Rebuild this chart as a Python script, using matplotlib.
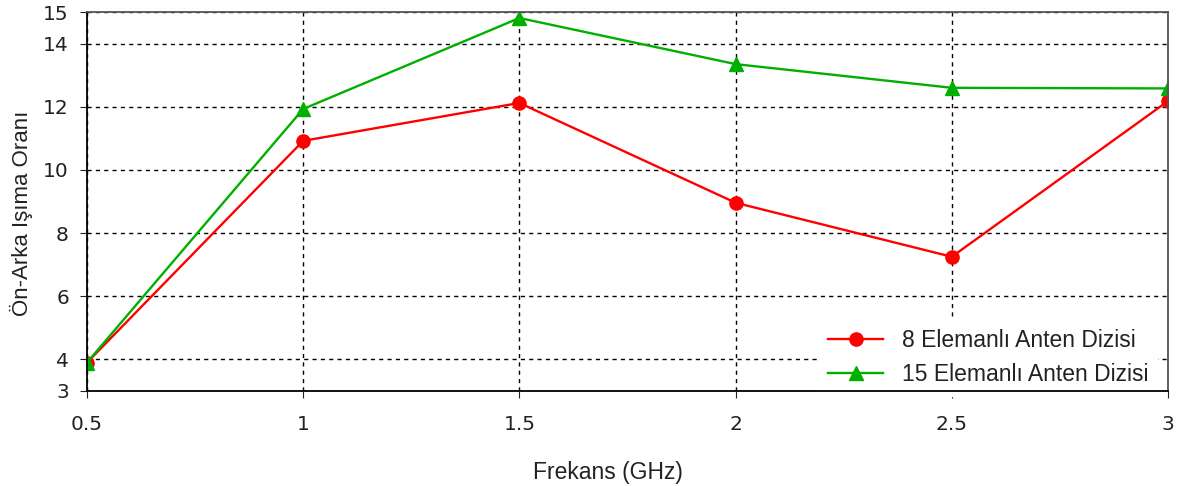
import matplotlib.pyplot as plt

# veri
frekans = [0.5, 1, 1.5, 2, 2.5, 3]
eleman8 = [3.9, 10.92, 12.12, 8.96, 7.25, 12.18]
eleman15 = [3.9, 11.93, 14.81, 13.35, 12.6, 12.58]
yticks = [3, 4, 6, 8, 10, 12, 14, 15]
xticks = [0.5, 1, 1.5, 2, 2.5, 3]

fig = plt.figure(figsize=(11.9, 4.86), dpi=100)
ax = fig.add_axes([0.0731, 0.1955, 0.9084, 0.7798])

ax.plot(frekans, eleman8, color='#ff0000', lw=1.7, marker='o', markersize=9.5,
        label='8 Elemanlı Anten Dizisi', zorder=3)
ax.plot(frekans, eleman15, color='#00b000', lw=1.7, marker='^', markersize=10,
        label='15 Elemanlı Anten Dizisi', zorder=3)

ax.set_xlim(0.5, 3)
ax.set_ylim(3, 15)
ax.set_xticks(xticks)
ax.set_xticklabels(['0.5', '1', '1.5', '2', '2.5', '3'])
ax.set_yticks(yticks)
ax.grid(True, color='black', linestyle=(0, (3, 3)), linewidth=1.0)
ax.tick_params(direction='out', length=5, labelsize=14.5, colors='#222222')
ax.tick_params(axis='x', pad=12)
ax.tick_params(axis='y', pad=8)
for s in ['top', 'right']:
    ax.spines[s].set_color('#555555')
for s in ax.spines.values():
    s.set_linewidth(1.3)
    s.set_zorder(6)

ax.set_xlabel('Frekans (GHz)', fontsize=16.5, family='Liberation Sans', color='#222222')
ax.set_ylabel('Ön-Arka Işıma Oranı', fontsize=16, family='Liberation Sans', color='#222222')
ax.xaxis.set_label_coords(0.482, -0.185)
ax.yaxis.set_label_coords(-0.05, 0.47)

leg = ax.legend(loc='lower right', bbox_to_anchor=(0.99, -0.012), frameon=True, fancybox=False,
                edgecolor='white', framealpha=1, handlelength=2.4, handletextpad=0.8,
                labelspacing=0.5, borderaxespad=0.0,
                prop={'family': 'Liberation Sans', 'size': 16.5})
for t in leg.get_texts():
    t.set_color('#222222')

fig.savefig('out.png', dpi=100)
